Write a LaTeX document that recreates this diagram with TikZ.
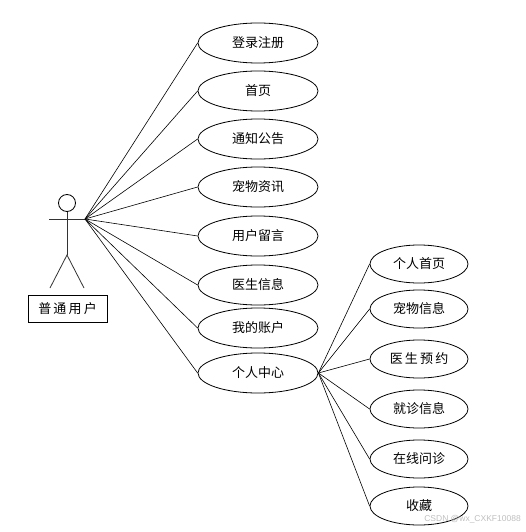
\documentclass[tikz,border=0pt]{standalone}
\usepackage{fontspec}
\usetikzlibrary{shapes.geometric}
\newfontfamily\cjk{Noto Sans CJK SC}
\newfontfamily\wmfont{Liberation Sans}
\begin{document}
\begin{tikzpicture}[x=1pt,y=-1pt,
  usecase/.style={draw,ellipse,line width=0.8pt,minimum width=120pt,minimum height=40pt,inner sep=0pt,font=\cjk\fontsize{13}{15}\selectfont},
  subcase/.style={usecase,minimum width=98pt,minimum height=38pt},
  link/.style={line width=0.6pt},
  actorline/.style={line width=0.8pt,draw=black!80}]
\useasboundingbox (0,0) rectangle (526,532);
% actor
\node[draw,circle,line width=0.8pt,minimum size=17pt,inner sep=0pt] (head) at (67,203) {};
\coordinate (hand) at (85,219);
\coordinate (lhand) at (49,219);
\coordinate (hip) at (67,255);
\coordinate (lfoot) at (50,288);
\coordinate (rfoot) at (84,288);
\draw[actorline] (head.south) -- (hip);
\draw[actorline] (lhand) -- (hand);
\draw[actorline] (lfoot) -- (hip) -- (rfoot);
\node[draw,line width=0.8pt,minimum width=79pt,minimum height=27pt,inner sep=0pt,font=\cjk\fontsize{13}{15}\selectfont] (actor) at (67.5,308.5) {普\,通\,用\,户};
% use cases
\node[usecase] (u1) at (258,43) {登录注册};
\node[usecase] (u2) at (258,91) {首页};
\node[usecase] (u3) at (258,139) {通知公告};
\node[usecase] (u4) at (258,187) {宠物资讯};
\node[usecase] (u5) at (258,236) {用户留言};
\node[usecase] (u6) at (258,285) {医生信息};
\node[usecase] (u7) at (258,328) {我的账户};
\node[usecase] (u8) at (258,373) {个人中心};
\foreach \n in {u1,u2,u3,u4,u5,u6,u7,u8} \draw[link] (hand) -- (\n.west);
% sub cases
\node[subcase] (s1) at (419,264) {个人首页};
\node[subcase] (s2) at (419,309) {宠物信息};
\node[subcase] (s3) at (419,359) {医\,生\,预\,约};
\node[subcase] (s4) at (419,409) {就诊信息};
\node[subcase] (s5) at (419,459) {在线问诊};
\node[subcase] (s6) at (419,506) {收藏};
\foreach \n in {s1,s2,s3,s4,s5,s6} \draw[link] (u8.east) -- (\n.west);
% watermark
\node[text=black!25,font=\wmfont\fontsize{8.5}{9}\selectfont,anchor=east,inner sep=0pt] (wm) at (521,519) {CSDN @wx\_CXKF10088};
\end{tikzpicture}
\end{document}
